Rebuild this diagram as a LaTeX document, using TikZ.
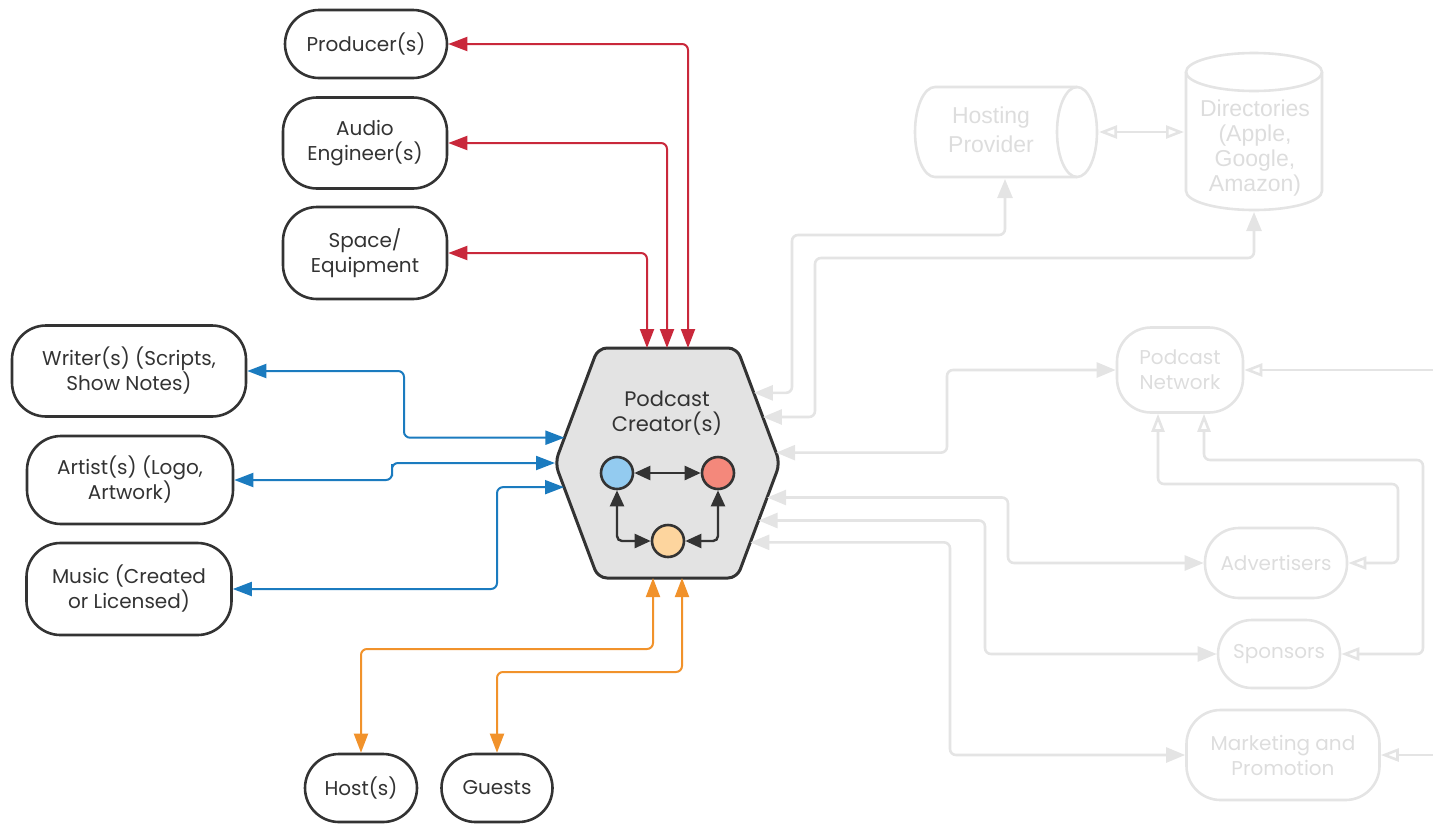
\documentclass[tikz,border=0pt]{standalone}
\usepackage{fontspec}
\setmainfont{Poppins}
\newfontfamily\arialfont{Liberation Sans}
\usetikzlibrary{arrows.meta,calc}
\definecolor{dark}{HTML}{333333}
\definecolor{hexfill}{HTML}{E3E3E3}
\definecolor{fade}{HTML}{E4E4E4}
\definecolor{fadetext}{HTML}{DDDDDD}
\definecolor{linkred}{HTML}{C9283B}
\definecolor{linkblue}{HTML}{1B7BBF}
\definecolor{linkorange}{HTML}{F1922B}
\definecolor{dotblue}{HTML}{93CBF0}
\definecolor{dotred}{HTML}{F4887B}
\definecolor{dotorange}{HTML}{FDD59E}
\tikzstyle{party}=[draw=dark,line width=2.6pt,rounded corners=34pt,align=center,text=dark,inner sep=0pt,font=\fontsize{20}{25}\selectfont]
\tikzstyle{fadeparty}=[party,draw=fade,text=fadetext]
\tikzstyle{link}=[line width=2pt,rounded corners=6pt,{Triangle[length=19pt,width=14pt]}-{Triangle[length=19pt,width=14pt]}]
\tikzstyle{fadelink}=[link,color=fade,line width=2.6pt,{Triangle[length=19pt,width=15pt]}-{Triangle[length=19pt,width=15pt]}]
\tikzstyle{openlink}=[line width=2.6pt,color=fade,rounded corners=6pt,{Triangle[open,length=18pt,width=13pt]}-{Triangle[open,length=18pt,width=13pt]}]

\begin{document}
\begin{tikzpicture}[x=1pt,y=-1pt]
    \tikzstyle{dot}=[circle,draw=dark,line width=2.6pt,minimum size=32pt,inner sep=0pt]
    \tikzstyle{innerlink}=[line width=2.4pt,color=dark,rounded corners=5pt,{Triangle[length=16pt,width=14pt]}-{Triangle[length=16pt,width=14pt]}]
    \tikzstyle{fadeshape}=[draw=fade,line width=2.6pt]
    \tikzstyle{fadecyl}=[text=fadetext,align=center,font=\arialfont\fontsize{23}{25}\selectfont]
    \useasboundingbox (0,0) rectangle (1433,823);

    \coordinate (hTL) at (598,348);
    \coordinate (hTR) at (737,348);
    \coordinate (hR) at (780,463);
    \coordinate (hBR) at (737,578);
    \coordinate (hBL) at (598,578);
    \coordinate (hL) at (555,463);
    \draw[fill=hexfill,draw=dark,line width=3pt,rounded corners=9pt] (hTL) -- (hTR) -- (hR) -- (hBR) -- (hBL) -- (hL) -- cycle;
    \node[text=dark,align=center,font=\fontsize{21}{25}\selectfont] (creator) at (667,413) {Podcast\\Creator(s)};

    \node[dot,fill=dotblue] (dotB) at (617,473) {};
    \node[dot,fill=dotred] (dotR) at (718,473) {};
    \node[dot,fill=dotorange] (dotO) at (668,541) {};
    \draw[innerlink] (dotB) -- (dotR);
    \draw[innerlink] (dotB) |- (dotO);
    \draw[innerlink] (dotR) |- (dotO);

    \coordinate (cN1) at (647,348);
    \coordinate (cN2) at (667,348);
    \coordinate (cN3) at (688,348);
    \coordinate (cS1) at (653,578);
    \coordinate (cS2) at (682,578);
    \coordinate (cW1) at ($(hL)!0.22!(hTL)$);
    \coordinate (cW3) at ($(hL)!0.21!(hBL)$);
    \coordinate (cE1) at ($(hR)!0.61!(hTR)$);
    \coordinate (cE2) at ($(hR)!0.40!(hTR)$);
    \coordinate (cE3) at ($(hR)!0.09!(hTR)$);
    \coordinate (cE4) at ($(hR)!0.30!(hBR)$);
    \coordinate (cE5) at ($(hR)!0.50!(hBR)$);
    \coordinate (cE6) at ($(hR)!0.69!(hBR)$);

    \node[party,minimum width=162pt,minimum height=68pt] (prod) at (366,44) {Producer(s)};
    \node[party,minimum width=164pt,minimum height=91pt] (audio) at (365,143) {Audio\\Engineer(s)};
    \node[party,minimum width=164pt,minimum height=92pt] (space) at (365,253) {Space/\\Equipment};
    \node[party,minimum width=234pt,minimum height=91pt] (writer) at (129,371) {Writer(s) (Scripts,\\Show Notes)};
    \node[party,minimum width=206pt,minimum height=88pt] (artist) at (130,480) {Artist(s) (Logo,\\Artwork)};
    \node[party,minimum width=205pt,minimum height=92pt] (music) at (129,589) {Music (Created\\or Licensed)};
    \node[party,minimum width=112pt,minimum height=68pt] (host) at (361,788) {Host(s)};
    \node[party,minimum width=111pt,minimum height=68pt] (guest) at (497,788) {Guests};

    \draw[link,color=linkred] (prod.east) -| (cN3);
    \draw[link,color=linkred] (audio.east) -| (cN2);
    \draw[link,color=linkred] (space.east) -| (cN1);
    \draw[link,color=linkblue] (writer.east) -| (404,400) |- (cW1);
    \draw[link,color=linkblue] (artist.east) -| (392,470) |- (hL);
    \draw[link,color=linkblue] (music.east) -| (497,540) |- (cW3);
    \draw[link,color=linkorange] (host.north) |- (600,649) -| (cS1);
    \draw[link,color=linkorange] (guest.north) |- (600,672) -| (cS2);

    \draw[fadeshape] (1077,87) -- (935,87) arc[start angle=-90,end angle=-270,x radius=20,y radius=45] -- (1077,177);
    \draw[fadeshape] (1077,132) ellipse [x radius=20,y radius=45];
    \node[fadecyl,font=\arialfont\fontsize{23}{29}\selectfont] (hosting) at (991,130) {Hosting\\Provider};
    \draw[fadeshape] (1254,72) ellipse [x radius=68,y radius=19];
    \draw[fadeshape] (1186,72) -- (1186,191) arc[start angle=180,end angle=0,x radius=68,y radius=19] -- (1322,72);
    \node[fadecyl] (dir) at (1255,148) {Directories\\(Apple,\\Google,\\Amazon)};
    \coordinate (hostS) at (1005,179);
    \coordinate (hostE) at (1099,132);
    \coordinate (dirW) at (1184,132);
    \coordinate (dirS) at (1254,212);

    \node[fadeparty,minimum width=126pt,minimum height=85pt] (net) at (1180,370) {Podcast\\Network};
    \node[fadeparty,minimum width=142pt,minimum height=70pt] (adv) at (1276,563) {Advertisers};
    \node[fadeparty,minimum width=122pt,minimum height=68pt] (spon) at (1279,654) {Sponsors};
    \node[fadeparty,minimum width=193pt,minimum height=90pt] (mark) at (1283,755) {Marketing and\\Promotion};
    \coordinate (netS1) at ([xshift=-22pt]net.south);
    \coordinate (netS2) at ([xshift=24pt]net.south);
    \coordinate (netIn) at (1433,370);
    \coordinate (markIn) at (1433,755);

    \draw[openlink] (hostE) -- (dirW);
    \draw[fadelink] (hostS) |- (792,235) |- (cE1);
    \draw[fadelink] (dirS) |- (815,258) |- (cE2);
    \draw[fadelink] (cE3) -| (947,400) |- (net.west);
    \draw[fadelink] (cE4) -| (1008,520) |- (adv.west);
    \draw[fadelink] (cE5) -| (985,580) |- (spon.west);
    \draw[fadelink] (cE6) -| (950,650) |- (mark.west);
    \draw[openlink] (netS1) |- (1398,484) |- (adv.east);
    \draw[openlink] (netS2) |- (1423,460) |- (spon.east);
    \draw[openlink,-{Triangle[open,length=18pt,width=13pt]}] (netIn) -- (net.east);
    \draw[openlink,-{Triangle[open,length=18pt,width=13pt]}] (markIn) -- (mark.east);
\end{tikzpicture}
\end{document}
